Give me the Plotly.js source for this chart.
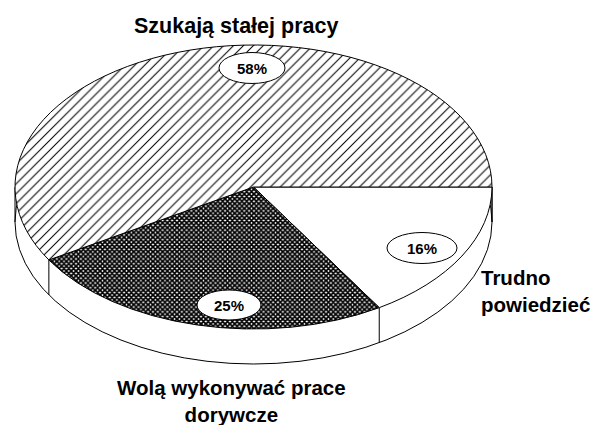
<!DOCTYPE html>
<html>
<head>
<meta charset="utf-8">
<script src="https://cdn.plot.ly/plotly-3.0.1.min.js"></script>
<style>
  html, body { margin: 0; padding: 0; background: #ffffff; }
  #chart { width: 599px; height: 425px; }
</style>
</head>
<body>
<div id="chart"></div>
<script>
// ---- data ----
const categories = ["Trudno<br>powiedzieć", "Wolą wykonywać prace<br>dorywcze", "Szukają stałej pracy"];
const shares = [16, 25, 58];
const hatchShapes = ["", "x", "/"];

// ---- layout geometry (pixels) ----
const W = 599, H = 425;
const CX = 253.5, CY = 187, RX = 238.5, RY = 142, DEPTH = 35;
const px = x => x / W;
const py = y => 1 - y / H;

const labelPos = [
  { x: 479, y: 291, anchor: "left", align: "left", size: 20.5 },
  { x: 231, y: 401, anchor: "center", align: "center", size: 20.5 },
  { x: 236, y: 25.5, anchor: "center", align: "center", size: 21.5 }
];
const ovalPos = [
  { x: 422, y: 248, w: 70, h: 31 },
  { x: 229, y: 305, w: 64, h: 30 },
  { x: 252, y: 68, w: 66, h: 31 }
];

const FONT = "Liberation Sans, Arial, Helvetica, sans-serif";

// ---- pie trace ----
const trace = {
  type: "pie",
  labels: categories,
  values: shares,
  sort: false,
  direction: "clockwise",
  rotation: 90,
  textinfo: "none",
  hoverinfo: "skip",
  showlegend: false,
  domain: { x: [0, 1], y: [0, 1] },
  marker: {
    colors: ["white", "black", "black"],
    line: { color: "black", width: 1 },
    pattern: {
      shape: hatchShapes,
      fgcolor: "black",
      bgcolor: "white",
      fillmode: "replace",
      size: [8, 3.4, 7],
      solidity: [0.1, 0.78, 0.15]
    }
  }
};

// ---- shapes: side wall of the disc + percentage ovals ----
const shapes = [];
shapes.push({
  type: "circle", layer: "below", xref: "paper", yref: "paper",
  x0: px(CX - RX), x1: px(CX + RX), y0: py(CY + DEPTH - RY), y1: py(CY + DEPTH + RY),
  fillcolor: "white", line: { color: "black", width: 1 }
});
const total = shares.reduce((s, v) => s + v, 0);
let cum = 0;
const boundaries = [0];
shares.forEach(v => { cum += v; boundaries.push(cum / total); });
boundaries.forEach(f => {
  const phi = (90 + 360 * f) * Math.PI / 180;
  const bx = CX + RX * Math.sin(phi);
  const by = CY - RY * Math.cos(phi);
  if (Math.cos(phi) < 0.001) {
    shapes.push({
      type: "line", layer: "below", xref: "paper", yref: "paper",
      x0: px(bx), x1: px(bx), y0: py(by), y1: py(by + DEPTH),
      line: { color: "black", width: 1 }
    });
  }
});
// left silhouette tangent
shapes.push({
  type: "line", layer: "below", xref: "paper", yref: "paper",
  x0: px(CX - RX), x1: px(CX - RX), y0: py(CY), y1: py(CY + DEPTH),
  line: { color: "black", width: 1 }
});
ovalPos.forEach(o => {
  shapes.push({
    type: "circle", layer: "above", xref: "paper", yref: "paper",
    x0: px(o.x - o.w / 2), x1: px(o.x + o.w / 2), y0: py(o.y + o.h / 2), y1: py(o.y - o.h / 2),
    fillcolor: "white", line: { color: "black", width: 1 }
  });
});

// ---- annotations: category labels and percentages ----
const annotations = [];
categories.forEach((c, i) => {
  const lp = labelPos[i];
  annotations.push({
    text: c, xref: "paper", yref: "paper",
    x: px(lp.x), y: py(lp.y),
    xanchor: lp.anchor, yanchor: "middle", align: lp.align, showarrow: false,
    font: { family: FONT, size: lp.size, color: "black", weight: "bold" }
  });
  annotations.push({
    text: shares[i] + "%", xref: "paper", yref: "paper",
    x: px(ovalPos[i].x), y: py(ovalPos[i].y),
    xanchor: "center", yanchor: "middle", showarrow: false,
    font: { family: FONT, size: 15, color: "black", weight: "bold" }
  });
});

const layout = {
  width: W, height: H,
  margin: { l: 0, r: 0, t: 0, b: 0 },
  paper_bgcolor: "white",
  plot_bgcolor: "white",
  showlegend: false,
  shapes: shapes,
  annotations: annotations
};

const gd = document.getElementById("chart");
Plotly.newPlot(gd, [trace], layout, { staticPlot: true, displayModeBar: false }).then(() => {
  // tilt the disc: squash the round pie into the perspective ellipse
  const cd0 = gd.calcdata && gd.calcdata[0] && gd.calcdata[0][0];
  const r = (cd0 && cd0.r) || Math.min(W, H) / 2;
  const cx = (cd0 && cd0.cx) || W / 2;
  const cy = (cd0 && cd0.cy) || H / 2;
  const sx = RX / r, sy = RY / r;
  const layer = gd.querySelector(".pielayer");
  if (layer) {
    layer.setAttribute("transform",
      "translate(" + CX + "," + CY + ") scale(" + sx + "," + sy + ") translate(" + (-cx) + "," + (-cy) + ")");
    layer.querySelectorAll("path").forEach(p => { p.style.vectorEffect = "non-scaling-stroke"; });
  }
  gd.querySelectorAll("pattern").forEach(pt => {
    const prev = pt.getAttribute("patternTransform") || "";
    pt.setAttribute("patternTransform", "scale(" + (1 / sx) + "," + (1 / sy) + ") " + prev);
  });
});
</script>
</body>
</html>
